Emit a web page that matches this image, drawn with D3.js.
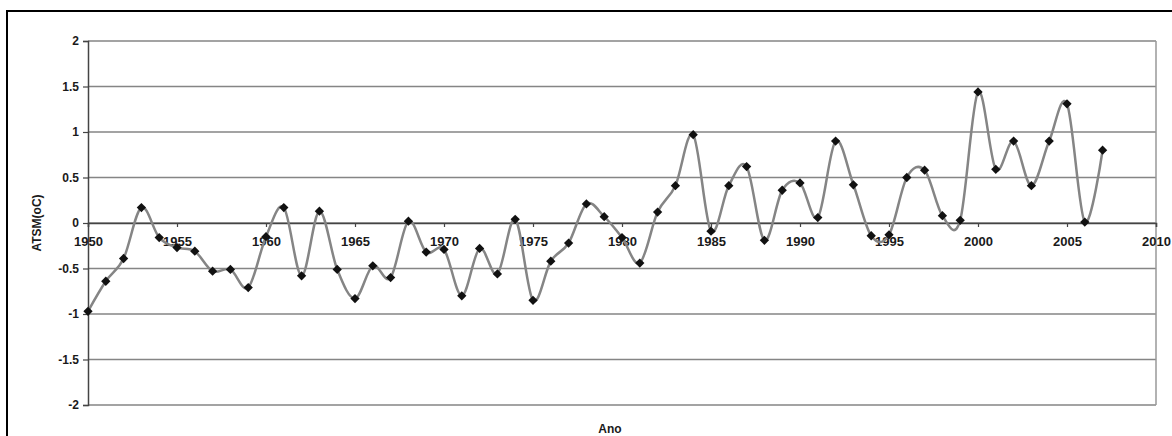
<!DOCTYPE html>
<html>
<head>
<meta charset="utf-8">
<script src="https://cdn.jsdelivr.net/npm/d3@7"></script>
<style>
  body { margin: 0; background: #fff; }
  svg { display: block; font-family: Arial, "Liberation Sans", sans-serif; }
</style>
</head>
<body>
<svg width="1172" height="436"></svg>
<script>
// years 1950..2007
var years = d3.range(1950, 2008)

// ATSM anomaly (oC)
var atsm = [
    -0.97, -0.64, -0.39, 0.17, -0.16, -0.27, -0.31, -0.53, -0.51, -0.71,
    -0.15, 0.17, -0.58, 0.13, -0.51, -0.83, -0.47, -0.60, 0.02, -0.32,
    -0.29, -0.80, -0.28, -0.56, 0.04, -0.85, -0.42, -0.22, 0.21, 0.07,
    -0.16, -0.44, 0.12, 0.41, 0.97, -0.09, 0.41, 0.62, -0.19, 0.36,
    0.44, 0.06, 0.90, 0.42, -0.14, -0.13, 0.50, 0.58, 0.08, 0.03,
    1.44, 0.59, 0.90, 0.41, 0.90, 1.31, 0.01, 0.80
]

var yTicks = [-2, -1.5, -1, -0.5, 0, 0.5, 1, 1.5, 2]
var xTicks = [1950, 1955, 1960, 1965, 1970, 1975, 1980, 1985, 1990, 1995, 2000, 2005, 2010]

var svg = d3.select('svg')

// outer frame
svg.append('rect')
    .attr('x', 7).attr('y', 11)
    .attr('width', 1180).attr('height', 440)
    .attr('fill', 'none')
    .attr('stroke', '#000')
    .attr('stroke-width', 2)

var x = d3.scaleLinear().domain([1950, 2010]).range([88, 1156])
var y = d3.scaleLinear().domain([-2, 2]).range([405, 41])

// grid lines
svg.append('g')
    .selectAll('line')
    .data(yTicks)
    .enter()
    .append('line')
    .attr('x1', x(1950))
    .attr('x2', x(2010))
    .attr('y1', function(d){ return y(d) })
    .attr('y2', function(d){ return y(d) })
    .attr('stroke', '#858585')
    .attr('stroke-width', 1.5)

// right border of plot area
svg.append('line')
    .attr('x1', x(2010)).attr('x2', x(2010))
    .attr('y1', y(2)).attr('y2', y(-2))
    .attr('stroke', '#999')
    .attr('stroke-width', 1.5)

// y axis
var yAxis = svg.append('g')
    .attr('transform', 'translate(' + x(1950) + ',0)')
    .call(d3.axisLeft(y).tickValues(yTicks).tickSize(5).tickPadding(4)
        .tickFormat(function(d){ return String(d) }))
yAxis.select('.domain').attr('stroke', '#444').attr('stroke-width', 1.5)
yAxis.selectAll('.tick line').attr('stroke', '#444').attr('stroke-width', 1.2)
yAxis.selectAll('text')
    .attr('font-size', 12)
    .attr('font-weight', 'bold')
    .attr('fill', '#1a1a1a')

// x axis sits on y = 0
var xAxis = svg.append('g')
    .attr('transform', 'translate(0,' + y(0) + ')')
    .call(d3.axisBottom(x).tickValues(xTicks).tickSize(4).tickPadding(10)
        .tickFormat(d3.format('d')))
xAxis.select('.domain').attr('stroke', '#444').attr('stroke-width', 1.5)
xAxis.selectAll('.tick line').attr('stroke', '#444').attr('stroke-width', 1.2)
xAxis.selectAll('text')
    .attr('font-size', 13)
    .attr('font-weight', 'bold')
    .attr('fill', '#1a1a1a')

// series
var points = years.map(function(d, i){ return {year: d, v: atsm[i]} })

var line = d3.line()
    .x(function(d){ return x(d.year) })
    .y(function(d){ return y(d.v) })
    .curve(d3.curveCardinal.tension(0))

svg.append('path')
    .datum(points)
    .attr('d', line)
    .attr('fill', 'none')
    .attr('stroke', '#858585')
    .attr('stroke-width', 2.5)

svg.append('g')
    .selectAll('path')
    .data(points)
    .enter()
    .append('path')
    .attr('d', d3.symbol().type(d3.symbolDiamond2).size(55))
    .attr('transform', function(d){
        return 'translate(' + x(d.year) + ',' + y(d.v) + ')'
    })
    .attr('fill', '#111')

// axis titles
svg.append('text')
    .attr('transform', 'translate(41,' + y(0) + ') rotate(-90)')
    .attr('text-anchor', 'middle')
    .attr('font-size', 12)
    .attr('font-weight', 'bold')
    .attr('fill', '#1a1a1a')
    .text('ATSM(oC)')

svg.append('text')
    .attr('x', 610)
    .attr('y', 433)
    .attr('text-anchor', 'middle')
    .attr('font-size', 12)
    .attr('font-weight', 'bold')
    .attr('fill', '#1a1a1a')
    .text('Ano')
</script>
</body>
</html>
